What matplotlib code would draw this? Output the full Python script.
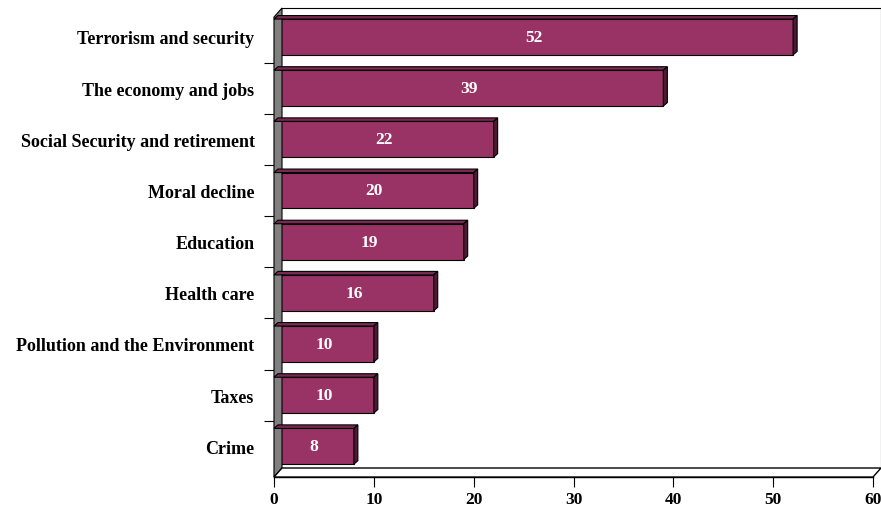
import matplotlib
matplotlib.use("Agg")
import matplotlib.pyplot as plt
from matplotlib.patches import Polygon
from matplotlib.transforms import ScaledTranslation
import numpy as np

# Data, top to bottom as in the chart
categories = ["Terrorism and security", "The economy and jobs", "Social Security and retirement",
              "Moral decline", "Education", "Health care",
              "Pollution and the Environment", "Taxes", "Crime"]
values = [52, 39, 22, 20, 19, 16, 10, 10, 8]
xticks = [0, 10, 20, 30, 40, 50, 60]

bar_color = "#993366"
top_color = "#7a2952"
side_color = "#4d1a33"
serif = ["Liberation Serif", "DejaVu Serif"]

fig = plt.figure(figsize=(8.81, 5.10), dpi=100)
ax = fig.add_axes([274 / 881, 1 - 478 / 510, 599 / 881, 460 / 510])

n = len(categories)
ypos = [n - 1 - i for i in range(n)]
h = 0.70

ax.set_yticks(ypos)
ax.set_yticklabels(categories, fontsize=13, fontweight="bold", family=serif)
ax.set_xticks(xticks)
ax.set_xticklabels([str(t) for t in xticks], fontsize=12.5, fontweight="bold", family=serif)
ax.tick_params(axis="y", length=0, pad=14)
ax.tick_params(axis="x", length=7, width=0.8, pad=3)

# y tick marks between categories on the front wall edge
bounds = [y + 0.5 for y in ypos]
ax.set_yticks(bounds, minor=True)
ax.tick_params(axis="y", which="minor", length=7, width=0.8)

ax.set_xlim(0, 60)
ax.set_ylim(-0.6, 8.39)

# offsets for the 3d look (in inches)
bar_depth = ScaledTranslation(0.04, 0.035, fig.dpi_scale_trans)
box_depth = ScaledTranslation(0.08, 0.09, fig.dpi_scale_trans)

A = ax.transAxes
Ab = ax.transAxes + box_depth


def fig_pts(tr, pts):
    return fig.transFigure.inverted().transform(tr.transform(np.array(pts)))


# grey left wall, floor, back edges
wall = fig_pts(A, [(0, 0), (0, 1)]).tolist() + fig_pts(Ab, [(0, 1), (0, 0)]).tolist()
fig.patches.append(Polygon(wall, closed=True, facecolor="#808080", edgecolor="black",
                           lw=0.8, transform=fig.transFigure, zorder=0))
floor = fig_pts(A, [(0, 0), (1, 0)]).tolist() + fig_pts(Ab, [(1, 0), (0, 0)]).tolist()
fig.patches.append(Polygon(floor, closed=True, facecolor="white", edgecolor="black",
                           lw=1.0, transform=fig.transFigure, zorder=0))
back = fig_pts(Ab, [(0, 1), (1, 1), (1, 0)])
fig.lines.append(plt.Line2D(back[:, 0], back[:, 1], color="black", lw=0.8,
                            transform=fig.transFigure))

ax.patch.set_alpha(0)
for s in ["top", "right"]:
    ax.spines[s].set_visible(False)
ax.spines["left"].set_linewidth(0.8)
ax.spines["bottom"].set_linewidth(1.0)

# bars with depth faces
ax.barh(ypos, values, height=h, color=bar_color, edgecolor="black", linewidth=0.8, zorder=3)
for y, v in zip(ypos, values):
    top = [(0, y + h / 2), (v, y + h / 2)]
    right = [(v, y + h / 2), (v, y - h / 2)]
    tface = fig_pts(ax.transData, top).tolist() + fig_pts(ax.transData + bar_depth, top[::-1]).tolist()
    rface = fig_pts(ax.transData, right).tolist() + fig_pts(ax.transData + bar_depth, right[::-1]).tolist()
    fig.patches.append(Polygon(tface, closed=True, facecolor=top_color, edgecolor="black",
                               lw=0.8, transform=fig.transFigure, zorder=2))
    fig.patches.append(Polygon(rface, closed=True, facecolor=side_color, edgecolor="black",
                               lw=0.8, transform=fig.transFigure, zorder=2))
    ax.text(v / 2, y, str(v), ha="center", va="center", color="white",
            fontsize=12.5, fontweight="bold", family=serif, zorder=5)

fig.savefig("out.png", dpi=100)
